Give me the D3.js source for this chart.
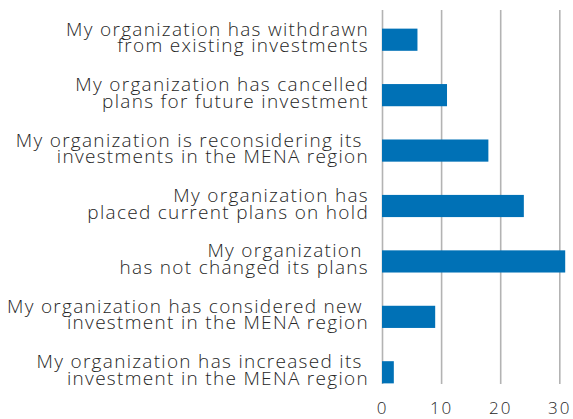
<!DOCTYPE html>
<html>
<head>
<meta charset="utf-8">
<script src="https://cdn.jsdelivr.net/npm/d3@7"></script>
<style>
  body { margin: 0; background: #fff; }
  text { font-family: "Open Sans", sans-serif; fill: #262626; }
</style>
</head>
<body>
<div id="chart"></div>
<script>
/* Horizontal bar chart */

const categories = [
    ["My organization has withdrawn", "from existing investments"],
    ["My organization has cancelled", "plans for future investment"],
    ["My organization is reconsidering its ", "investments in the MENA region"],
    ["My organization has", "placed current plans on hold"],
    ["My organization ", "has not changed its plans"],
    ["My organization has considered new ", "investment in the MENA region"],
    ["My organization has increased its ", "investment in the MENA region"]
];
const values = [6, 11, 18, 24, 31, 9, 2];
const ticks = [0, 10, 20, 30];

const height = 419,
    width = 573,
    margin = ({ top: 12, right: 14, bottom: 19, left: 382 });

const svg = d3.select("#chart")
    .append("svg")
    .attr("width", width)
    .attr("height", height);

const names = categories.map(d => d.join(" "));

let x = d3.scaleLinear()
    .domain([0, 30])
    .range([margin.left, 559.3]);

let y = d3.scaleBand()
    .domain(names)
    .range([margin.top, height - margin.bottom])
    .paddingInner(0.6)
    .paddingOuter(0.3);

/* grid lines + tick labels */
const axis = svg.append("g")
    .attr("transform", `translate(0,384)`)
    .call(d3.axisBottom(x).tickValues(ticks).tickSize(-374).tickSizeOuter(0));

axis.select(".domain").remove();
axis.selectAll(".tick line")
    .attr("stroke", "#b3b3b3")
    .attr("stroke-width", 1.6);
axis.selectAll(".tick text")
    .attr("y", 30)
    .attr("dy", 0)
    .attr("font-size", 17)
    .attr("font-weight", 300)
    .attr("letter-spacing", 2)
    .attr("fill", "#262626");

/* bars */
svg.append("g")
  .selectAll("rect")
  .data(values)
  .join("rect")
    .attr("x", x(0))
    .attr("y", (d, i) => y(names[i]))
    .attr("width", d => x(d) - x(0))
    .attr("height", y.bandwidth())
    .attr("fill", "#0071b6");

/* category labels */
const labels = svg.append("g")
  .selectAll("text")
  .data(categories)
  .join("text")
    .attr("text-anchor", "end")
    .attr("font-size", 19)
    .attr("font-weight", 300)
    .attr("letter-spacing", 1.3)
    .style("white-space", "pre")
    .attr("y", (d, i) => y(names[i]) + y.bandwidth() / 2);

labels.selectAll("tspan")
  .data(d => d)
  .join("tspan")
    .attr("x", 369)
    .attr("dy", (d, j) => j === 0 ? -4 : 16.5)
    .text(d => d);
</script>
</body>
</html>
